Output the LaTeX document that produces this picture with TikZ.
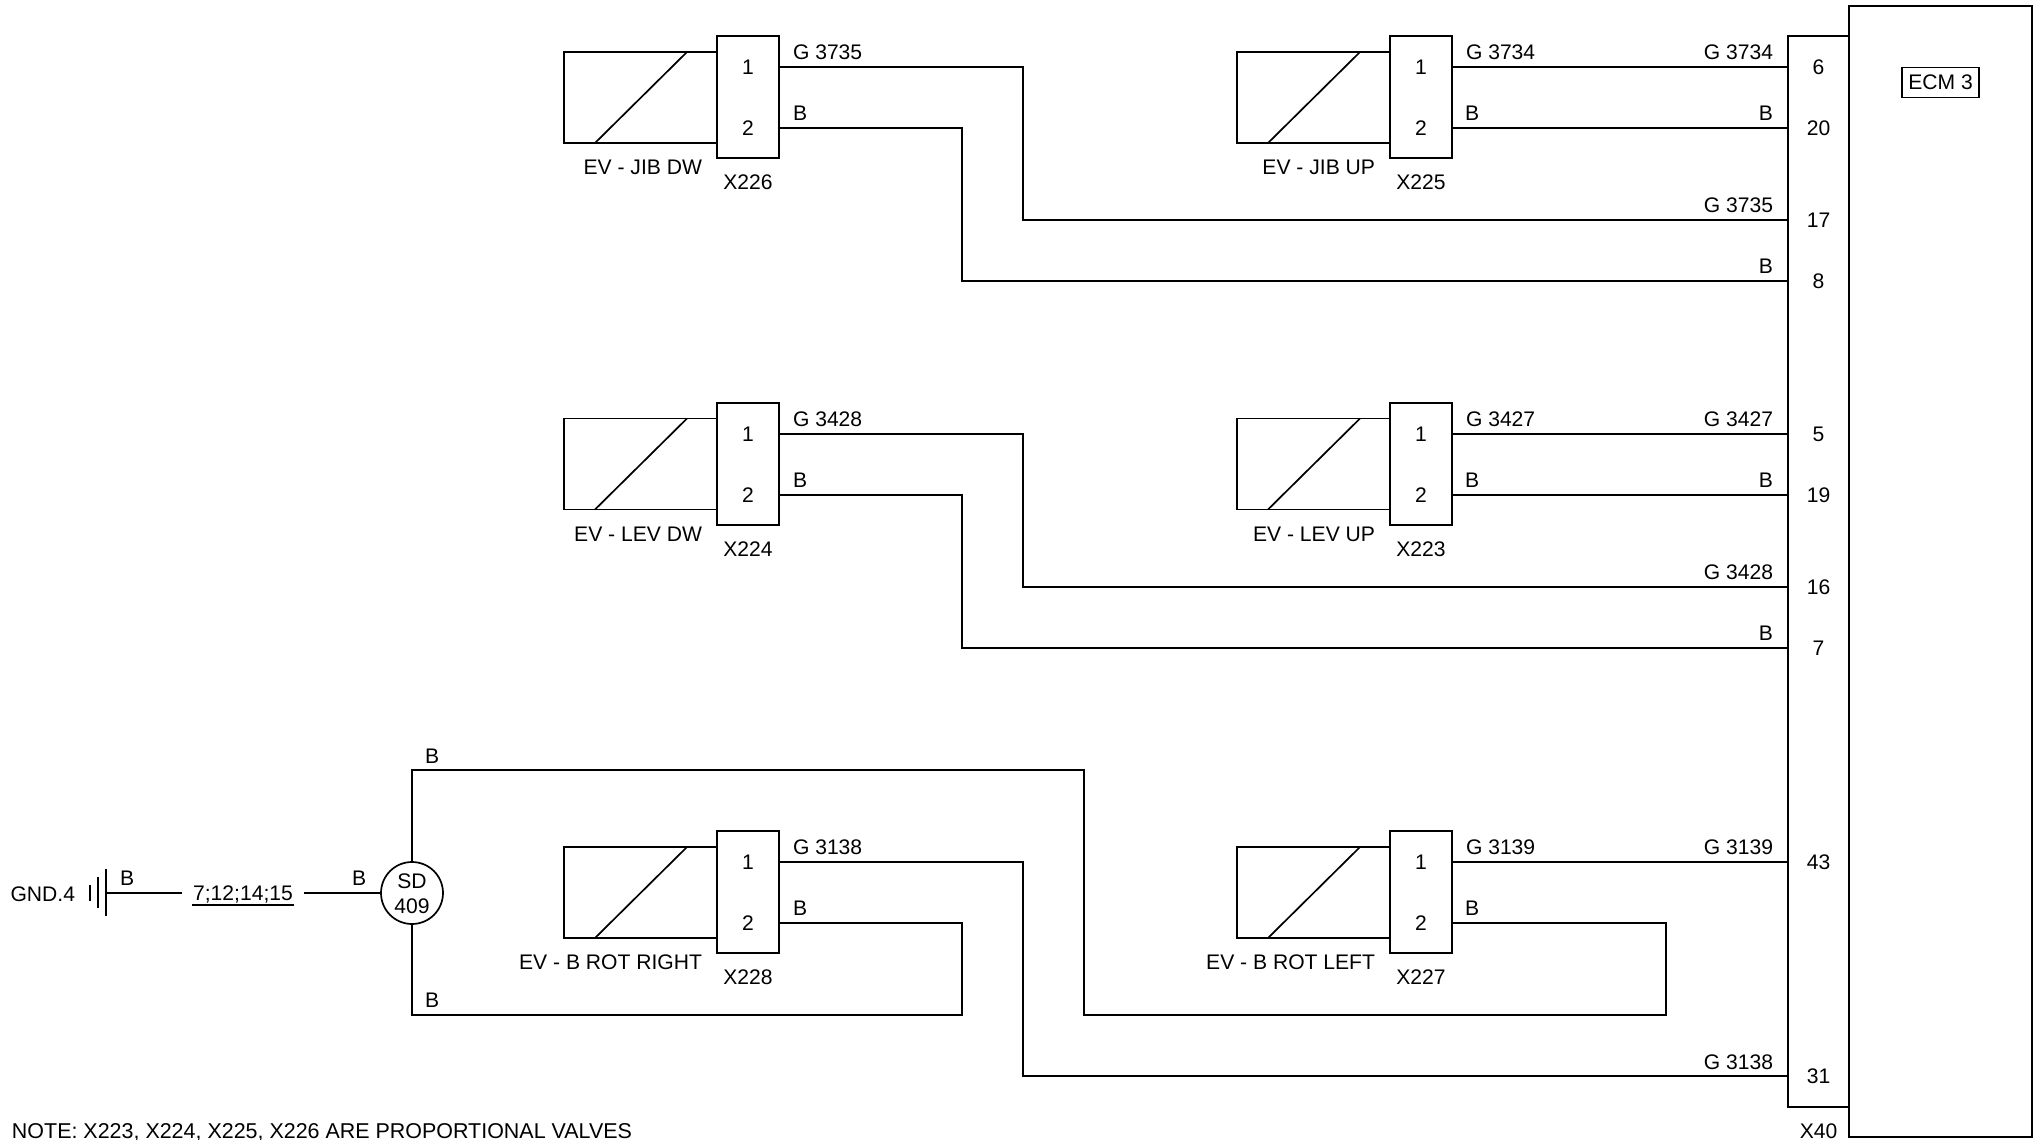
\documentclass[tikz,border=0pt]{standalone}
\usepackage{fontspec}
\setmainfont{Liberation Sans}

\tikzset{
    wire/.style={line width=1.7pt},
    txt/.style={inner sep=0pt,outer sep=0pt,font=\fontsize{21.1}{24}\selectfont},
    conn/.style={draw,line width=1.7pt,inner sep=0pt,outer sep=0pt,minimum width=62pt,minimum height=122pt},
    coil/.style={draw,line width=1.7pt,inner sep=0pt,outer sep=0pt,minimum width=153pt,minimum height=91pt}
}

\begin{document}
\begin{tikzpicture}[x=1pt,y=-1pt]

    \useasboundingbox (0,0) rectangle (2040,1140);

    % ecm and its connector
    \node[draw,line width=1.7pt,inner sep=0pt,outer sep=0pt,minimum width=183pt,minimum height=1131pt] (ecm) at (1940.5,571.5) {};
    \node[draw,line width=1.7pt,inner sep=0pt,outer sep=0pt,minimum width=61pt,minimum height=1071pt] (xforty) at (1818.5,571.5) {};
    \node[txt,draw,line width=1.7pt,minimum width=77pt,minimum height=30pt] (ecmlabel) at (1940.5,82.5) {ECM 3};
    \node[txt] (xfortylabel) at (1818.5,1131) {X40};
    % pin numbers
    \node[txt] (p6) at (1818.5,67) {6};
    \node[txt] (p20) at (1818.5,128) {20};
    \node[txt] (p17) at (1818.5,220) {17};
    \node[txt] (p8) at (1818.5,281) {8};
    \node[txt] (p5) at (1818.5,434) {5};
    \node[txt] (p19) at (1818.5,495) {19};
    \node[txt] (p16) at (1818.5,587) {16};
    \node[txt] (p7) at (1818.5,648) {7};
    \node[txt] (p43) at (1818.5,862) {43};
    \node[txt] (p31) at (1818.5,1076) {31};

    % valve x226
    \node[coil] (coilx226) at (640.5,97.5) {};
    \node[conn] (x226) at (748,97) {};
    \node[txt] (x226a) at (748,67) {1};
    \node[txt] (x226b) at (748,128) {2};
    \node[txt,anchor=east] (evx226) at (702,167) {EV - JIB DW};
    \node[txt] (x226label) at (748,182) {X226};
    \draw[wire] ([xshift=123pt]coilx226.north west) -- ([xshift=31pt]coilx226.south west);

    % valve x225
    \node[coil] (coilx225) at (1313.5,97.5) {};
    \node[conn] (x225) at (1421,97) {};
    \node[txt] (x225a) at (1421,67) {1};
    \node[txt] (x225b) at (1421,128) {2};
    \node[txt,anchor=east] (evx225) at (1375,167) {EV - JIB UP};
    \node[txt] (x225label) at (1421,182) {X225};
    \draw[wire] ([xshift=123pt]coilx225.north west) -- ([xshift=31pt]coilx225.south west);

    % valve x224
    \node[coil] (coilx224) at (640.5,464) {};
    \node[conn] (x224) at (748,464) {};
    \node[txt] (x224a) at (748,434) {1};
    \node[txt] (x224b) at (748,495) {2};
    \node[txt,anchor=east] (evx224) at (702,534) {EV - LEV DW};
    \node[txt] (x224label) at (748,549) {X224};
    \draw[wire] ([xshift=123pt]coilx224.north west) -- ([xshift=31pt]coilx224.south west);

    % valve x223
    \node[coil] (coilx223) at (1313.5,464) {};
    \node[conn] (x223) at (1421,464) {};
    \node[txt] (x223a) at (1421,434) {1};
    \node[txt] (x223b) at (1421,495) {2};
    \node[txt,anchor=east] (evx223) at (1375,534) {EV - LEV UP};
    \node[txt] (x223label) at (1421,549) {X223};
    \draw[wire] ([xshift=123pt]coilx223.north west) -- ([xshift=31pt]coilx223.south west);

    % valve x228
    \node[coil] (coilx228) at (640.5,892.5) {};
    \node[conn] (x228) at (748,892) {};
    \node[txt] (x228a) at (748,862) {1};
    \node[txt] (x228b) at (748,923) {2};
    \node[txt,anchor=east] (evx228) at (702,962) {EV - B ROT RIGHT};
    \node[txt] (x228label) at (748,977) {X228};
    \draw[wire] ([xshift=123pt]coilx228.north west) -- ([xshift=31pt]coilx228.south west);

    % valve x227
    \node[coil] (coilx227) at (1313.5,892.5) {};
    \node[conn] (x227) at (1421,892) {};
    \node[txt] (x227a) at (1421,862) {1};
    \node[txt] (x227b) at (1421,923) {2};
    \node[txt,anchor=east] (evx227) at (1375,962) {EV - B ROT LEFT};
    \node[txt] (x227label) at (1421,977) {X227};
    \draw[wire] ([xshift=123pt]coilx227.north west) -- ([xshift=31pt]coilx227.south west);

    % ground and splice
    \node[draw,circle,line width=1.7pt,inner sep=0pt,outer sep=0pt,minimum size=62pt] (sd) at (412,893) {};
    \node[txt] (sdtop) at (412,881) {SD};
    \node[txt] (sdbottom) at (412,906) {409};
    \node[txt,anchor=east] (gnd) at (75,894) {GND.4};
    \node[txt] (splice) at (243,894) {7;12;14;15};
    \coordinate (gndtop) at (106,869);
    \coordinate (gndbottom) at (106,916);
    \coordinate (gndout) at (106,893);
    \draw[wire] (gndtop) -- (gndbottom);
    \draw[wire] (98,877) -- (98,908);
    \draw[wire] (90,885) -- (90,901);
    \draw[wire] (192,905) -- (294,905); %underline
    \coordinate (splicein) at (182,893);
    \coordinate (spliceout) at (304,893);
    \draw[wire] (gndout) -- (splicein);
    \draw[wire] (spliceout) -- (sd.west);

    % upper wires
    \draw[wire] (x226.east |- x226a) -- (1023,67) -- (1023,220) -- (xforty.west |- p17);
    \draw[wire] (x226.east |- x226b) -- (962,128) -- (962,281) -- (xforty.west |- p8);
    \draw[wire] (x225.east |- x225a) -- (xforty.west |- p6);
    \draw[wire] (x225.east |- x225b) -- (xforty.west |- p20);

    % middle wires
    \draw[wire] (x224.east |- x224a) -- (1023,434) -- (1023,587) -- (xforty.west |- p16);
    \draw[wire] (x224.east |- x224b) -- (962,495) -- (962,648) -- (xforty.west |- p7);
    \draw[wire] (x223.east |- x223a) -- (xforty.west |- p5);
    \draw[wire] (x223.east |- x223b) -- (xforty.west |- p19);

    % lower wires
    \draw[wire] (x228.east |- x228a) -- (1023,862) -- (1023,1076) -- (xforty.west |- p31);
    \draw[wire] (x227.east |- x227a) -- (xforty.west |- p43);
    \draw[wire] (x228.east |- x228b) -- (962,923) -- (962,1015) -- (412,1015) -- (sd.south);
    \draw[wire] (x227.east |- x227b) -- (1666,923) -- (1666,1015) -- (1084,1015) -- (1084,770) -- (412,770) -- (sd.north);

    % wire labels
    \node[txt,anchor=west] (l1) at (793,52) {G 3735};
    \node[txt,anchor=west] (l2) at (793,113) {B};
    \node[txt,anchor=west] (l3) at (1466,52) {G 3734};
    \node[txt,anchor=west] (l4) at (1465,113) {B};
    \node[txt,anchor=east] (l5) at (1773,52) {G 3734};
    \node[txt,anchor=east] (l6) at (1773,113) {B};
    \node[txt,anchor=east] (l7) at (1773,205) {G 3735};
    \node[txt,anchor=east] (l8) at (1773,266) {B};
    \node[txt,anchor=west] (l9) at (793,419) {G 3428};
    \node[txt,anchor=west] (l10) at (793,480) {B};
    \node[txt,anchor=west] (l11) at (1466,419) {G 3427};
    \node[txt,anchor=west] (l12) at (1465,480) {B};
    \node[txt,anchor=east] (l13) at (1773,419) {G 3427};
    \node[txt,anchor=east] (l14) at (1773,480) {B};
    \node[txt,anchor=east] (l15) at (1773,572) {G 3428};
    \node[txt,anchor=east] (l16) at (1773,633) {B};
    \node[txt,anchor=west] (l17) at (793,847) {G 3138};
    \node[txt,anchor=west] (l18) at (793,908) {B};
    \node[txt,anchor=west] (l19) at (1466,847) {G 3139};
    \node[txt,anchor=west] (l20) at (1465,908) {B};
    \node[txt,anchor=east] (l21) at (1773,847) {G 3139};
    \node[txt,anchor=east] (l22) at (1773,1062) {G 3138};
    \node[txt,anchor=west] (l23) at (120,878) {B};
    \node[txt,anchor=west] (l24) at (352,878) {B};
    \node[txt,anchor=west] (l25) at (425,756) {B};
    \node[txt,anchor=west] (l26) at (425,1000) {B};

    % note
    \node[txt,anchor=west,font=\fontsize{21.45}{24}\selectfont] (note) at (12,1132) {NOTE: X223, X224, X225, X226 ARE PROPORTIONAL VALVES};

\end{tikzpicture}
\end{document}
